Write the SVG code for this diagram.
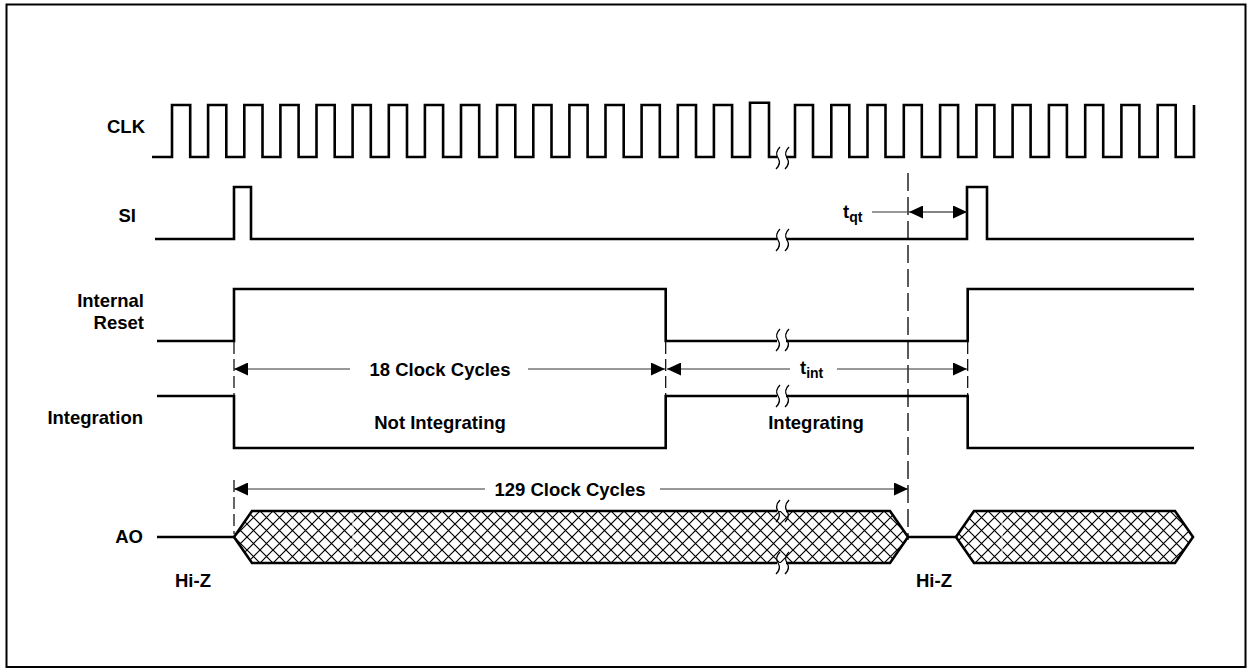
<svg xmlns="http://www.w3.org/2000/svg" xmlns:xlink="http://www.w3.org/1999/xlink" width="1252" height="672" viewBox="0 0 1252 672">
<style>
.sig{fill:none;stroke:#000;stroke-width:2.6;stroke-linejoin:miter;stroke-linecap:butt}
.lbl{font-family:"Liberation Sans",Arial,Helvetica,sans-serif;font-weight:bold;font-size:18.5px;fill:#000}
.sub{font-size:14px}
.arr{fill:none;stroke:#333;stroke-width:1.2}
.dash{fill:none;stroke:#000;stroke-width:1.2;stroke-dasharray:12 5}
.ldash{fill:none;stroke:#000;stroke-width:1.3;stroke-dasharray:18 6}
.brk{fill:none;stroke:#000;stroke-width:1.3}
</style>
<defs>
<marker id="ah" markerUnits="userSpaceOnUse" markerWidth="15" markerHeight="13" refX="14" refY="6.5" orient="auto">
<path d="M0,0 L14,6.5 L0,13 z" fill="#000"/>
</marker>
<pattern id="hatch" patternUnits="userSpaceOnUse" x="234" y="511" width="13" height="13">
<path d="M0,0 L13,13 M13,0 L0,13" stroke="#000" stroke-width="1.2"/>
</pattern>
<path id="brk" d="M2,-11 C-2,-7 -2,-3 0,0 C2,3 2,7 -2,11" class="brk"/>
</defs>
<rect x="0" y="0" width="1252" height="672" fill="#fff"/>
<rect id="frame" x="6.5" y="4.5" width="1239" height="662.5" fill="none" stroke="#000" stroke-width="2"/>

<g id="labels" class="lbl">
<text x="145" y="133" text-anchor="end">CLK</text>
<text x="136" y="222" text-anchor="end">SI</text>
<text x="144" y="307" text-anchor="end">Internal</text>
<text x="144" y="329" text-anchor="end">Reset</text>
<text x="143" y="424" text-anchor="end">Integration</text>
<text x="143" y="543" text-anchor="end">AO</text>
<text x="175" y="587">Hi-Z</text>
<text x="916" y="587">Hi-Z</text>
</g>

<g id="clk">
<path class="sig" d="M152,157 H172 V105 H190.2 V157 H208.1 V105 H226.3 V157 H244.3 V105 H262.5 V157 H280.4 V105 H298.6 V157 H316.5 V105 H334.7 V157 H352.6 V105 H370.8 V157 H388.8 V105 H407 V157 H424.9 V105 H443.1 V157 H461 V105 H479.2 V157 H497.1 V105 H515.3 V157 H533.3 V105 H551.5 V157 H569.4 V105 H587.6 V157 H605.5 V105 H623.7 V157 H641.6 V105 H659.8 V157 H677.8 V105 H696 V157 H713.9 V105 H732.1 V157 H750 V102.7 H769 V157 H777"/>
<path class="sig" d="M786,157 H795 V105 H813 V157 H831.3 V105 H849.3 V157 H867.5 V105 H885.5 V157 H903.8 V105 H921.8 V157 H940.1 V105 H958.1 V157 H976.4 V105 H994.4 V157 H1012.6 V105 H1030.6 V157 H1048.9 V105 H1066.9 V157 H1085.2 V105 H1103.2 V157 H1121.4 V105 H1139.4 V157 H1157.7 V105 H1175.7 V157 H1194 V105"/>
<use xlink:href="#brk" x="778" y="158"/>
<use xlink:href="#brk" x="787" y="158"/>
</g>

<g id="si">
<path class="sig" d="M155,239 H234 V187 H251 V239 H777"/>
<path class="sig" d="M786,239 H967 V187 H987 V239 H1194"/>
<use xlink:href="#brk" x="778" y="240"/>
<use xlink:href="#brk" x="787" y="240"/>
</g>

<g id="internal-reset">
<path class="sig" d="M157,341 H234 V289 H665.7 V341 H777"/>
<path class="sig" d="M786,341 H967.7 V289 H1194"/>
<use xlink:href="#brk" x="778" y="340"/>
<use xlink:href="#brk" x="787" y="340"/>
</g>

<g id="integration">
<path class="sig" d="M157,396 H234 V448 H665.7 V396 H777"/>
<path class="sig" d="M786,396 H967.7 V448 H1194"/>
<use xlink:href="#brk" x="778" y="396"/>
<use xlink:href="#brk" x="787" y="396"/>
</g>

<g id="ao">
<path class="sig" d="M157,537 H234"/>
<path d="M234,537 L252,511 H890 L908,537 L890,563 H252 z" fill="url(#hatch)"/>
<line x1="353" y1="512.5" x2="353" y2="561.5" stroke="#fff" stroke-width="1"/>
<path class="sig" d="M777,511 H252 L234,537 L252,563 H777"/>
<path class="sig" d="M786,511 H890 L908,537 L890,563 H786"/>
<use xlink:href="#brk" x="778" y="511"/>
<use xlink:href="#brk" x="787" y="511"/>
<use xlink:href="#brk" x="778" y="563"/>
<use xlink:href="#brk" x="787" y="563"/>
<path class="sig" d="M908,537 H956"/>
<path d="M956,537 L974,511 H1175 L1193,537 L1175,563 H974 z" fill="url(#hatch)"/>
<line x1="1002" y1="512.5" x2="1002" y2="561.5" stroke="#fff" stroke-width="1"/>
<path class="sig" d="M956,537 L974,511 H1175 L1193,537 L1175,563 H974 z"/>
</g>

<g id="connectors">
<line class="ldash" x1="908" y1="173" x2="908" y2="540"/>
<line class="dash" x1="234" y1="342" x2="234" y2="396"/>
<line class="dash" x1="665.7" y1="342" x2="665.7" y2="396"/>
<line class="dash" x1="967.7" y1="342" x2="967.7" y2="396"/>
<line class="dash" x1="234" y1="480" x2="234" y2="534"/>
<line class="arr" x1="350" y1="369" x2="234" y2="369" marker-end="url(#ah)"/>
<line class="arr" x1="528" y1="369" x2="665" y2="369" marker-end="url(#ah)"/>
<line class="arr" x1="790" y1="369" x2="667" y2="369" marker-end="url(#ah)"/>
<line class="arr" x1="837" y1="369" x2="967" y2="369" marker-end="url(#ah)"/>
<line class="arr" x1="872" y1="212" x2="908" y2="212"/>
<line class="arr" x1="938" y1="212" x2="909" y2="212" marker-end="url(#ah)"/>
<line class="arr" x1="938" y1="212" x2="967" y2="212" marker-end="url(#ah)"/>
<line class="arr" x1="485" y1="489" x2="234" y2="489" marker-end="url(#ah)"/>
<line class="arr" x1="660" y1="489" x2="908" y2="489" marker-end="url(#ah)"/>
</g>

<g id="annotations" class="lbl">
<text x="440" y="375.5" text-anchor="middle">18 Clock Cycles</text>
<text x="440" y="429" text-anchor="middle">Not Integrating</text>
<text x="816" y="429" text-anchor="middle">Integrating</text>
<text x="800" y="374">t<tspan class="sub" dy="4">int</tspan></text>
<text x="843" y="218">t<tspan class="sub" dy="4">qt</tspan></text>
<text x="570" y="495.5" text-anchor="middle">129 Clock Cycles</text>
</g>
</svg>
